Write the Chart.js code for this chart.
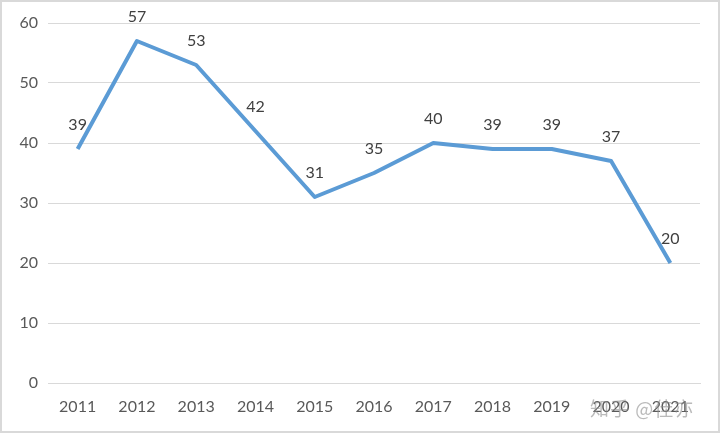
<!DOCTYPE html>
<html>
<head>
<meta charset="utf-8">
<script src="https://cdn.jsdelivr.net/npm/chart.js@4/dist/chart.umd.min.js"></script>
<style>
  body { margin: 0; background: #fff; }
  #wrap { position: relative; width: 720px; height: 433px; border: 2px solid #d9d9d9; box-sizing: border-box; }
  #mark { position: absolute; left: 588px; top: 392px; font: 19px "Noto Sans CJK SC", sans-serif; color: rgba(140,140,140,0.6); letter-spacing: 1px; }
</style>
</head>
<body>
<div id="wrap">
  <canvas id="chart" width="716" height="429"></canvas>
  <div id="mark">知乎 @佳亦</div>
</div>
<script>
const years = ["2011", "2012", "2013", "2014", "2015", "2016", "2017", "2018", "2019", "2020", "2021"];
const counts = [39, 57, 53, 42, 31, 35, 40, 39, 39, 37, 20];
const yTicks = [0, 10, 20, 30, 40, 50, 60];

// value labels above each point
const pointLabels = {
  id: 'pointLabels',
  afterDatasetsDraw(chart) {
    const { ctx } = chart;
    const meta = chart.getDatasetMeta(0);
    ctx.save();
    ctx.font = '16px Lato';
    ctx.fillStyle = '#404040';
    ctx.textAlign = 'center';
    ctx.textBaseline = 'middle';
    meta.data.forEach((pt, i) => {
      ctx.fillText(counts[i], pt.x, pt.y - 24);
    });
    ctx.restore();
  }
};

new Chart(document.getElementById("chart"), {
  type: "line",
  data: {
    labels: years,
    datasets: [{
      data: counts,
      borderColor: "#5B9BD5",
      borderWidth: 4,
      borderJoinStyle: "round",
      pointRadius: 0,
      tension: 0,
      fill: false
    }]
  },
  options: {
    responsive: false,
    animation: false,
    layout: { padding: { top: 21, right: 18, left: 0, bottom: 0 } },
    plugins: { legend: { display: false }, tooltip: { enabled: false } },
    scales: {
      x: {
        offset: true,
        grid: { display: false, drawTicks: false },
        border: { display: true, color: "#d9d9d9", width: 1 },
        ticks: { color: "#595959", font: { family: "Lato", size: 16 }, padding: 14, maxRotation: 0 },
        afterFit(scale) { scale.height = 48; }
      },
      y: {
        min: 0,
        max: 60,
        afterBuildTicks(scale) { scale.ticks = yTicks.map(v => ({ value: v })); },
        grid: { color: "#d9d9d9", drawTicks: false },
        border: { display: false },
        ticks: { color: "#595959", font: { family: "Lato", size: 16 }, padding: 10 },
        afterFit(scale) { scale.width = 46; }
      }
    }
  },
  plugins: [pointLabels]
});
</script>
</body>
</html>
